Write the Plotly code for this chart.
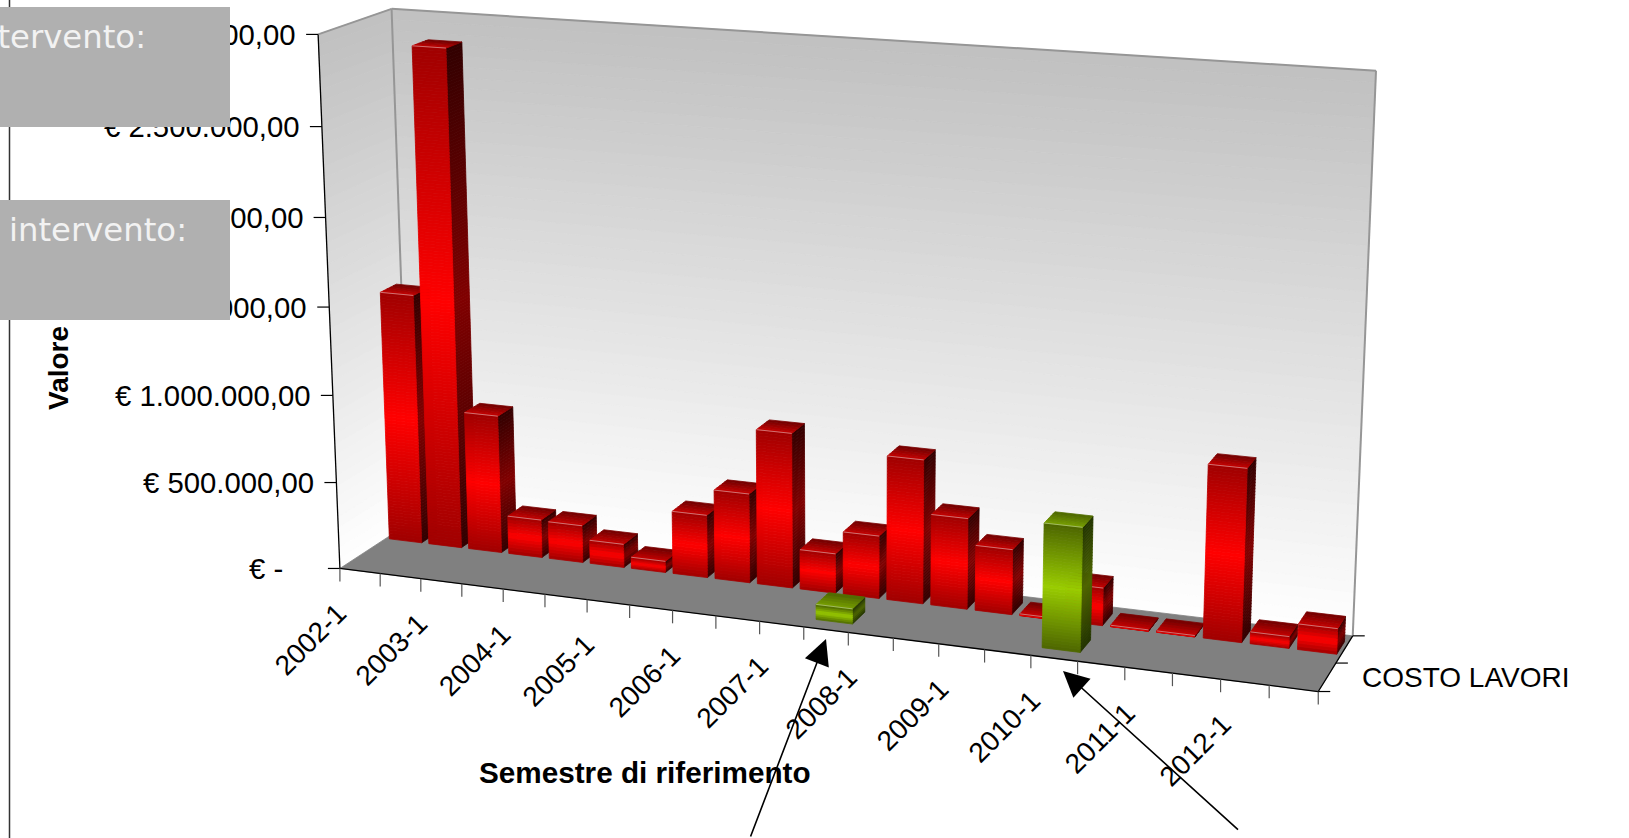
import numpy as np
import plotly.graph_objects as go

# ---- data ----
categories = [f"{y}-{s}" for y in range(2002, 2013) for s in (1, 2)]
label_every = 2
costo_altro = [1450000, 2860000, 800000, 220000, 215000, 135000, 65000, 360000, 510000, 880000, 225000,
               355000, 810000, 510000, 365000, 10000, 210000, 8000, 8000, 950000, 65000, 140000]
costo_lavori = [0, 0, 0, 0, 0, 0, 0, 0, 0, 0, 0, 85000, 0, 0, 0, 0, 680000, 0, 0, 0, 0, 0]
value_ticks = [0, 500000, 1000000, 1500000, 2000000, 2500000, 3000000]
value_labels = ["€ -", "€ 500.000,00", "€ 1.000.000,00", "€ 1.500.000,00", "€ 2.000.000,00", "€ 2.500.000,00",
                "€ 3.000.000,00"]
series_label = "COSTO LAVORI"
x_title = "Semestre di riferimento"
y_title = "Valore"
box_text = "intervento:"

# ---- projection of the 3D chart box onto the page ----
VMAX = 3000000.0
NC = len(categories)
box = np.array([[0, 0, 0], [1, 0, 0], [1, 1, 0], [0, 1, 0], [0, 0, 1], [0, 1, 1], [1, 1, 1]], float)
page = np.array([[340, 569.3], [1318.3, 690.7], [1352.7, 636.7], [409.5, 522], [318, 34.3], [391.7, 9], [1376, 70.7]])
rows = []
for (a, b, c), (px, py) in zip(box, page):
    rows.append([a, b, c, 1, 0, 0, 0, 0, -px * a, -px * b, -px * c, -px])
    rows.append([0, 0, 0, 0, a, b, c, 1, -py * a, -py * b, -py * c, -py])
P = np.linalg.svd(np.array(rows))[2][-1].reshape(3, 4)


def proj(u, r, v):
    h = P @ np.array([u / NC, r / 2.0, v / VMAX, 1.0])
    return h[0] / h[2], h[1] / h[2]


def mix(a, b, t):
    return "rgb(%d,%d,%d)" % tuple(round(a[k] + (b[k] - a[k]) * t) for k in range(3))


fig = go.Figure()


def poly(pts, color, lw=0.8, lc=None):
    xs = [p[0] for p in pts] + [pts[0][0]]
    ys = [p[1] for p in pts] + [pts[0][1]]
    fig.add_trace(go.Scatter(x=xs, y=ys, mode="lines", fill="toself", fillcolor=color,
                             line=dict(color=lc or color, width=lw), hoverinfo="skip", showlegend=False))


def line(p, q, color, w):
    fig.add_trace(go.Scatter(x=[p[0], q[0]], y=[p[1], q[1]], mode="lines", line=dict(color=color, width=w),
                             hoverinfo="skip", showlegend=False))


# walls
WALL_STEPS = 50
for k in range(WALL_STEPS):
    v0, v1 = VMAX * k / WALL_STEPS, VMAX * (k + 1) / WALL_STEPS
    c = mix((255, 255, 255), (192, 192, 192), (k + 0.5) / WALL_STEPS)
    poly([proj(0, 2, v0), proj(NC, 2, v0), proj(NC, 2, v1), proj(0, 2, v1)], c)
    poly([proj(0, 0, v0), proj(0, 2, v0), proj(0, 2, v1), proj(0, 0, v1)], c)
poly([proj(0, 0, 0), proj(NC, 0, 0), proj(NC, 2, 0), proj(0, 2, 0)], "#808080")

GRAY = "#969696"
line(proj(0, 2, 0), proj(0, 2, VMAX), GRAY, 2)
line(proj(NC, 2, 0), proj(NC, 2, VMAX), GRAY, 2)
line(proj(0, 2, VMAX), proj(NC, 2, VMAX), GRAY, 2)
line(proj(0, 0, VMAX), proj(0, 2, VMAX), GRAY, 2)
line(proj(0, 0, 0), proj(0, 0, VMAX), "#000000", 1.3)
line(proj(0, 0, 0), proj(NC, 0, 0), "#000000", 1.3)
line(proj(NC, 0, 0), proj(NC, 2, 0), "#000000", 1.3)

# ticks
for v in value_ticks:
    p = proj(0, 0, v)
    line((p[0] - 12, p[1]), p, "#000000", 1.2)
for i in range(NC + 1):
    p = proj(i, 0, 0)
    line(p, (p[0], p[1] + 13), "#555555", 1.2)
for r in range(3):
    p = proj(NC, r, 0)
    line(p, (p[0] + 12, p[1]), "#000000", 1.2)

GAP_U = 0.09
R_FRONT = 0.30
R_BACK = 0.76
RED = dict(fd=(160, 0, 0), fb=(255, 0, 0), sd=(50, 0, 0), sb=(128, 0, 0), td=(112, 0, 0), tb=(200, 0, 0), edge="#d9a0a0")
GREEN = dict(fd=(77, 102, 0), fb=(153, 204, 0), sd=(34, 51, 0), sb=(77, 102, 0), td=(77, 102, 0), tb=(120, 160, 0), edge="#b5c98a")


def bar(i, r, val, pal):
    if val <= 0:
        return
    u0, u1 = i + GAP_U, i + 1 - GAP_U
    r0, r1 = r + R_FRONT, r + R_BACK
    hpx = abs(proj(u0, r0, 0)[1] - proj(u0, r0, val)[1])
    n = max(8, int(hpx / 3))
    for k in range(n):
        a, b = val * k / n, val * (k + 1) / n
        t = 1 - abs(2 * (k + 0.5) / n - 1)
        poly([proj(u1, r0, a), proj(u1, r1, a), proj(u1, r1, b), proj(u1, r0, b)], mix(pal["sd"], pal["sb"], t))
        poly([proj(u0, r0, a), proj(u1, r0, a), proj(u1, r0, b), proj(u0, r0, b)], mix(pal["fd"], pal["fb"], t))
    m = 5
    for k in range(m):
        a, b = r0 + (r1 - r0) * k / m, r0 + (r1 - r0) * (k + 1) / m
        poly([proj(u0, a, val), proj(u1, a, val), proj(u1, b, val), proj(u0, b, val)],
             mix(pal["tb"], pal["td"], (k + 0.5) / m))
    line(proj(u0, r0, val), proj(u1, r0, val), pal["edge"], 0.7)


for i, v in enumerate(costo_altro):
    bar(i, 1, v, RED)
for i, v in enumerate(costo_lavori):
    bar(i, 0, v, GREEN)

FONT = "Liberation Sans, Arial, sans-serif"
notes = []
for v, t in zip(value_ticks, value_labels):
    p = proj(0, 0, v)
    x = p[0] - 20 if v > 0 else p[0] - 55
    notes.append(dict(x=x, y=p[1], text=t, xanchor="right", yanchor="middle", showarrow=False,
                      font=dict(family=FONT, size=29.3, color="#000000")))
for i in range(0, NC, label_every):
    p = proj(i + 0.5, 0, 0)
    notes.append(dict(x=p[0] - 5, y=p[1] + 24, text=categories[i], textangle=-45, xanchor="right", yanchor="top",
                      showarrow=False, font=dict(family=FONT, size=28, color="#000000")))
notes.append(dict(x=1360, y=677, text=series_label, xanchor="left", yanchor="middle", showarrow=False,
                  font=dict(family=FONT, size=28, color="#000000")))
notes.append(dict(x=645, y=772, text="<b>" + x_title + "</b>", xanchor="center", yanchor="middle", showarrow=False,
                  font=dict(family=FONT, size=29.7, color="#000000")))
notes.append(dict(x=58, y=368, text="<b>" + y_title + "</b>", textangle=-90, xanchor="center", yanchor="middle",
                  showarrow=False, font=dict(family=FONT, size=28, color="#000000")))

# grey call-out boxes
for y0, y1, tx in ((7, 127, 148), (199.5, 319, 189)):
    notes.append(dict(x=0, y=y0, text=" ", xanchor="left", yanchor="top", showarrow=False, width=230,
                      height=y1 - y0, bgcolor="#b0b0b0", borderpad=0, borderwidth=0, font=dict(size=10)))
    notes.append(dict(x=tx, y=y0 + 30, text=box_text, xanchor="right", yanchor="middle", showarrow=False,
                      font=dict(family="DejaVu Sans, sans-serif", size=32.3, color="#f2f2f2")))
# arrows
for tail, head in (((750, 838), (826, 639)), ((1239.5, 831), (1063, 671))):
    notes.append(dict(x=head[0], y=head[1], ax=tail[0], ay=tail[1], axref="x", ayref="y", text="", showarrow=True,
                      arrowhead=2, arrowsize=3.2, arrowwidth=1.6, arrowcolor="#000000"))

# left vertical rule
line((9.5, 0), (9.5, 838), "#333333", 1.5)

fig.update_layout(width=1629, height=838, margin=dict(l=0, r=0, t=0, b=0), paper_bgcolor="white",
                  plot_bgcolor="white", showlegend=False, annotations=notes,
                  xaxis=dict(range=[0, 1629], visible=False, fixedrange=True),
                  yaxis=dict(range=[838, 0], visible=False, fixedrange=True))
fig.write_html("out.html", config=dict(displayModeBar=False), post_script="document.body.style.margin='0';")
